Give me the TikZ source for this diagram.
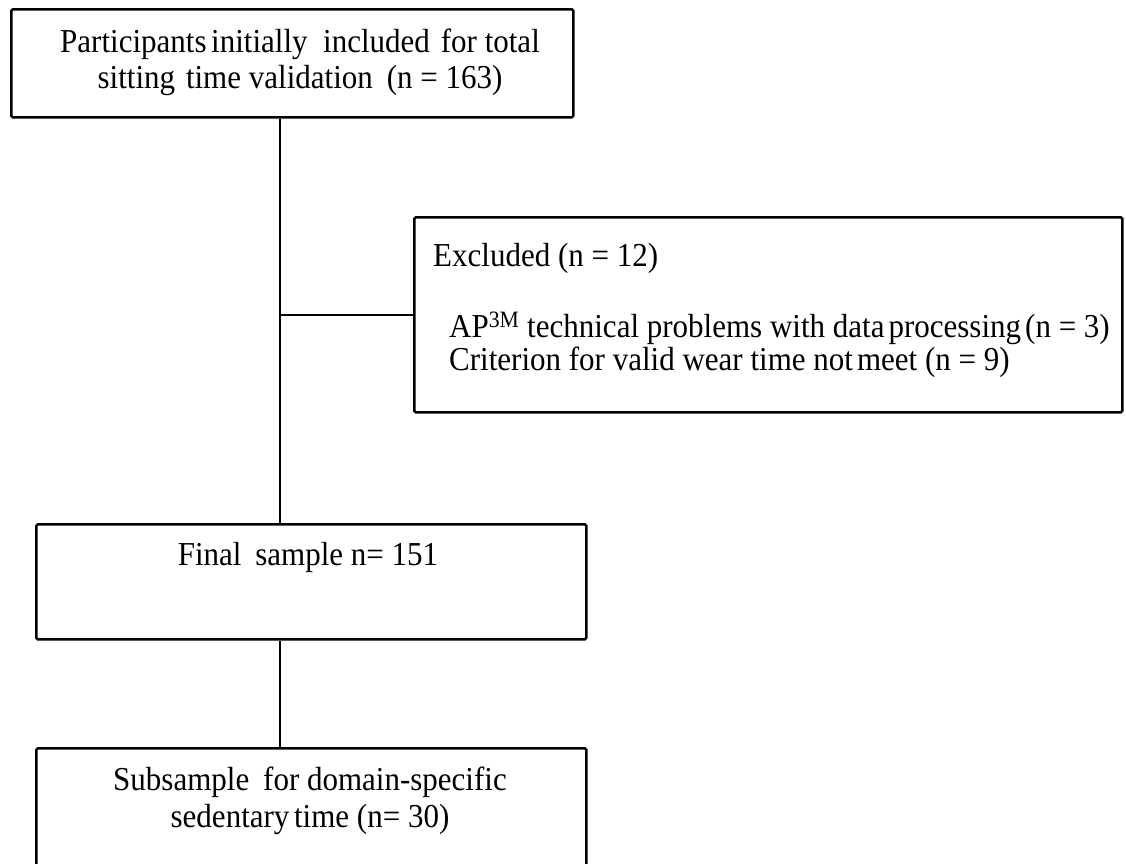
\documentclass[tikz,border=0pt]{standalone}
\usepackage{fontspec}
\usepackage{graphicx}
\setmainfont{Liberation Serif}
\newcommand{\tallt}[1]{\scalebox{1}[1.08]{#1}}
\begin{document}
\begin{tikzpicture}[x=1pt,y=-1pt,
  box/.style={draw=black, line width=2.6pt, rounded corners=1.5pt, inner sep=0pt, anchor=north west},
  conn/.style={draw=black, line width=2.4pt},
  txt/.style={inner sep=0pt, font=\fontsize{31}{36}\selectfont}
]
\useasboundingbox (0,0) rectangle (1126,863);
\clip (0,0) rectangle (1126,863);
% boxes
\node[box, minimum width=562pt, minimum height=108pt] (top) at (10,8) {};
\node[box, minimum width=708pt, minimum height=195pt] (excl) at (413,216) {};
\node[box, minimum width=550pt, minimum height=115pt] (final) at (35,523) {};
\node[box, minimum width=550pt, minimum height=140pt] (sub) at (35,747) {};
% texts
\node[txt, anchor=base] (t1) at (300,52) {\tallt{Participants\hspace{-0.1em} initially\hspace{0.25em} included\hspace{0.1em} for total}};
\node[txt, anchor=base] (t2) at (300,88) {\tallt{sitting\hspace{0.1em} time validation\hspace{0.2em} (n = 163)}};
\node[txt, anchor=base west] (e1) at (433,266) {\tallt{Excluded (n = 12)}};
\node[txt, anchor=base west] (e2) at (449,337) {\tallt{AP\textsuperscript{3M} technical problems with data\hspace{-0.12em} processing\hspace{-0.12em} (n = 3)}};
\node[txt, anchor=base west] (e3) at (449,370) {\tallt{Criterion for valid wear time not\hspace{-0.12em} meet (n = 9)}};
\node[txt, anchor=base] (f1) at (308,565) {\tallt{Final\hspace{0.2em} sample n= 151}};
\node[txt, anchor=base] (s1) at (310,790) {\tallt{Subsample\hspace{0.2em} for domain-specific}};
\node[txt, anchor=base] (s2) at (310,827) {\tallt{sedentary\hspace{-0.1em} time (n= 30)}};
% connectors
\coordinate (sx) at (280,0);
\draw[conn] (top.south -| sx) -- (final.north -| sx);
\draw[conn] (sx |- excl.west) -- (excl.west);
\draw[conn] (final.south -| sx) -- (sub.north -| sx);
\end{tikzpicture}
\end{document}
